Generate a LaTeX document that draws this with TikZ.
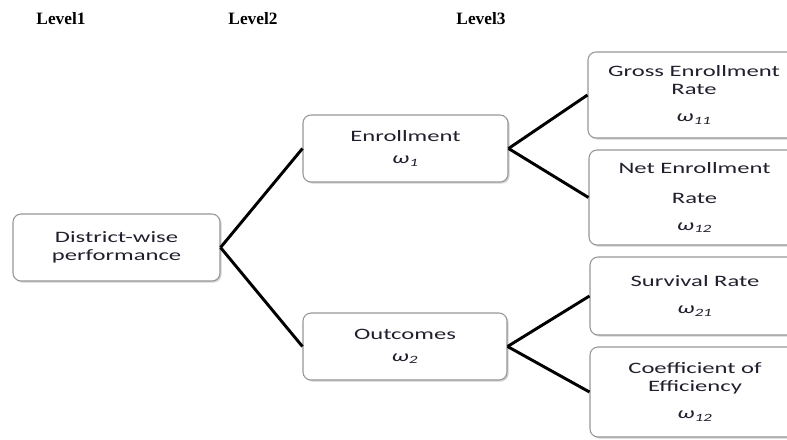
\documentclass[tikz,border=0pt]{standalone}
\usepackage{fontspec}
\setmainfont{Liberation Serif}
\newfontfamily\boxfont[FakeStretch=1.55]{Carlito}
\usetikzlibrary{shadows}
\definecolor{boxline}{RGB}{150,150,150}
\definecolor{boxtext}{RGB}{35,30,45}
\newcommand{\wt}[1]{{\itshape ω\textsubscript{#1}}}

\begin{document}
\begin{tikzpicture}[x=0.75pt,y=-0.75pt]
     \tikzstyle{level_style} = [font=\fontsize{13}{15}\selectfont\bfseries]
     \tikzstyle{box_style} = [rectangle,rounded corners=6pt,draw=boxline,fill=white,line width=0.8pt,drop shadow={shadow xshift=1.2pt,shadow yshift=-1.2pt,opacity=0.35},align=center,inner sep=0pt,text=boxtext,font=\boxfont\fontsize{11.9}{13.5}\selectfont]
     \tikzstyle{edge_style} = [draw=black,line width=2.2pt]
     \useasboundingbox (0,0) rectangle (787,439);
     \clip (0,0) rectangle (787,439);
     \node[level_style] (l1) at (61,18.5) {Level1};
     \node[level_style] (l2) at (253,18.5) {Level2};
     \node[level_style] (l3) at (481,18.5) {Level3};
     \node[box_style,minimum width=155.25pt,minimum height=50.25pt] (v1) at (116.5,247.5) {District-wise\\performance};
     \node[box_style,minimum width=153.75pt,minimum height=50.25pt] (v2) at (405.5,148.5) {Enrollment\\[3pt]\wt{1}};
     \node[box_style,minimum width=153pt,minimum height=50.25pt] (v3) at (405,346.5) {Outcomes\\[3pt]\wt{2}};
     \node[box_style,minimum width=159pt,minimum height=64.5pt] (v4) at (694,95) {Gross Enrollment\\Rate\\[7pt]\wt{11}};
     \node[box_style,minimum width=158.25pt,minimum height=71.25pt] (v5) at (694.5,197.5) {Net Enrollment\\[9pt]Rate\\[7pt]\wt{12}};
     \node[box_style,minimum width=157.5pt,minimum height=58.5pt] (v6) at (695,296) {Survival Rate\\[7pt]\wt{21}};
     \node[box_style,minimum width=157.5pt,minimum height=67.5pt] (v7) at (695,392) {Coefficient of\\Efficiency\\[7pt]\wt{12}};
     \draw[edge_style]  (v1.east) edge (v2.west);
     \draw[edge_style]  (v1.east) edge (v3.west);
     \draw[edge_style]  (v2.east) edge (v4.west);
     \draw[edge_style]  (v2.east) edge (v5.west);
     \draw[edge_style]  (v3.east) edge (v6.west);
     \draw[edge_style]  (v3.east) edge (v7.west);
\end{tikzpicture}
\end{document}
